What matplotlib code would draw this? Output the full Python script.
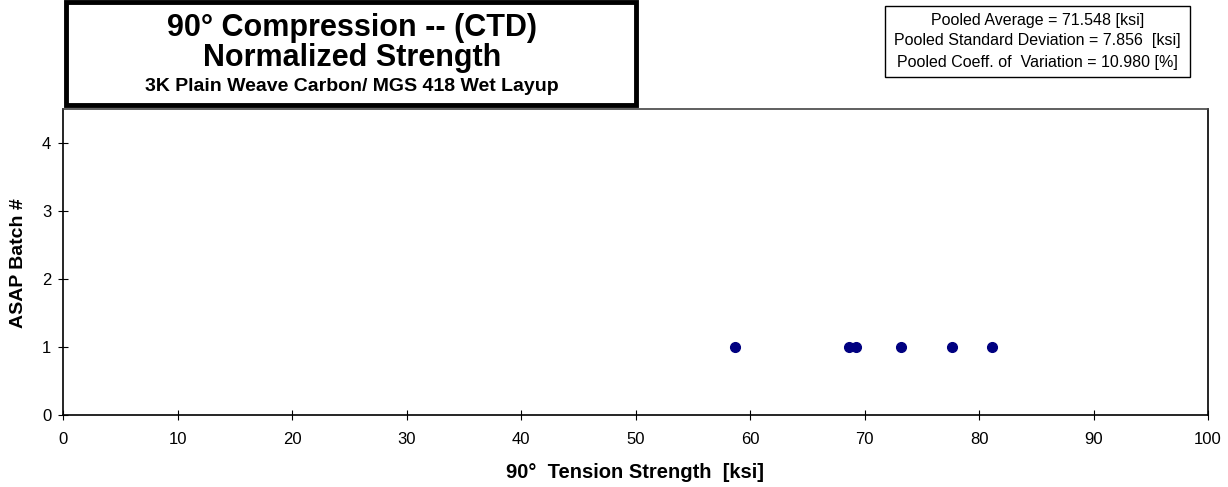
import matplotlib.pyplot as plt
import numpy as np
from matplotlib.patches import Rectangle

plt.rcParams['font.family'] = ['Liberation Sans', 'DejaVu Sans']

# specimen strengths, batch 1
strength = np.array([58.7, 68.65, 69.3, 73.2, 77.6, 81.1])
batch = np.array([1, 1, 1, 1, 1, 1])

title1 = "90° Compression -- (CTD)"
title2 = "Normalized Strength"
title3 = "3K Plain Weave Carbon/ MGS 418 Wet Layup"
stats = ["Pooled Average = 71.548 [ksi]",
         "Pooled Standard Deviation = 7.856  [ksi]",
         "Pooled Coeff. of  Variation = 10.980 [%]"]

W, H = 1228, 487
fig = plt.figure(figsize=(W / 100, H / 100), dpi=100)
ax = fig.add_axes([63 / W, 1 - 415 / H, (1208 - 63) / W, (415 - 109) / H])

ax.plot(strength, batch, 'o', color='#000080', markersize=7, zorder=3)
ax.set_xlim(0, 100)
ax.set_ylim(0, 4.5)
ax.set_xticks(np.arange(0, 101, 10))
ax.set_yticks([0, 1, 2, 3, 4])
ax.tick_params(direction='inout', length=7, width=0.8, labelsize=12, colors='black')
ax.tick_params(axis='x', pad=9)
ax.tick_params(axis='y', pad=5)
for s in ax.spines.values():
    s.set_linewidth(1.2)
ax.spines['top'].set_color('#444444')
ax.set_xlabel("90°  Tension Strength  [ksi]", fontsize=14.5, fontweight='bold')
ax.set_ylabel("ASAP Batch #", fontsize=14, fontweight='bold')
ax.xaxis.set_label_coords((635 - 63) / (1208 - 63), -(472 - 415) / (415 - 109))
ax.yaxis.set_label_coords(-(63 - 19) / (1208 - 63), (415 - 263) / (415 - 109))
ax.xaxis.label.set_va('center')
ax.yaxis.label.set_va('center')

# title box
fig.patches.append(Rectangle((66 / W, 1 - 105 / H), (636 - 66) / W, (105 - 2) / H,
                             transform=fig.transFigure, fill=False, lw=3.5, ec='black'))
cx = 352 / W
fig.text(cx, 1 - 28 / H, title1, ha='center', va='center', fontsize=22, fontweight='bold')
fig.text(cx, 1 - 58 / H, title2, ha='center', va='center', fontsize=22, fontweight='bold')
fig.text(cx, 1 - 86 / H, title3, ha='center', va='center', fontsize=14, fontweight='bold')

# stats box
bx0, bx1, by0, by1 = 885, 1190, 6, 77
fig.patches.append(Rectangle((bx0 / W, 1 - by1 / H), (bx1 - bx0) / W, (by1 - by0) / H,
                             transform=fig.transFigure, fill=False, lw=1.0, ec='black'))
sx = (bx0 + bx1) / 2 / W
for i, line in enumerate(stats):
    fig.text(sx, 1 - (20 + 21 * i) / H, line, ha='center', va='center', fontsize=11.5)

fig.savefig("out.png", dpi=100)
